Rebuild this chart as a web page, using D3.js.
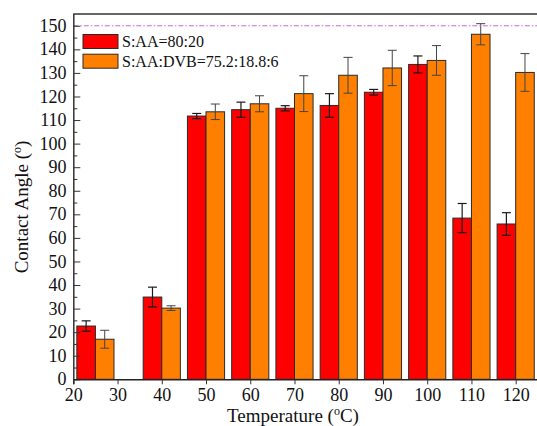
<!DOCTYPE html>
<html>
<head>
<meta charset="utf-8">
<script src="https://cdn.jsdelivr.net/npm/d3@7"></script>
<style>
  body { margin: 0; background: #fff; }
  svg { display: block; font-family: 'Liberation Serif', 'Times New Roman', serif; }
</style>
</head>
<body>
<div id="chart"></div>
<script>
// Data
const temps = [25, 40, 50, 60, 70, 80, 90, 100, 110, 120]
const aaVals = [22.6, 34.9, 111.7, 114.4, 115.0, 116.2, 121.8, 133.6, 68.4, 65.9]
const aaErr = [2.2, 4.2, 1.1, 3.2, 1.1, 5.0, 1.2, 3.6, 6.2, 4.8]
const dvbVals = [17.0, 30.2, 113.5, 116.9, 121.2, 129.0, 132.1, 135.3, 146.4, 130.2]
const dvbErr = [3.8, 1.0, 3.3, 3.4, 7.6, 7.6, 7.5, 6.3, 4.5, 8.0]
const seriesNames = ['S:AA=80:20', 'S:AA:DVB=75.2:18.8:6']
const xTicks = [20, 30, 40, 50, 60, 70, 80, 90, 100, 110, 120]
const yTicks = d3.range(0, 151, 10)
const refLine = 150

const width = 537,
  height = 426

const svg = d3.select('#chart')
  .append('svg')
  .attr('width', width)
  .attr('height', height)

const x = d3.scaleLinear().domain([20, 125]).range([73.3, 537.8])
const y = d3.scaleLinear().domain([0, 155]).range([379.3, 14])

const barW = 4.2 // in data units
const colors = ['#ff0000', '#ff8000']

const series = [
  { vals: aaVals, err: aaErr, off: -barW, color: colors[0], errColor: '#1a1a1a', errW: 1.2 },
  { vals: dvbVals, err: dvbErr, off: 0, color: colors[1], errColor: '#444', errW: 1 }
]

// bars
series.forEach((s) => {
  svg.append('g')
    .selectAll('rect')
    .data(temps)
    .enter()
    .append('rect')
    .attr('x', (d) => x(d + s.off))
    .attr('width', (d) => x(d + s.off + barW) - x(d + s.off))
    .attr('y', (d, i) => y(s.vals[i]))
    .attr('height', (d, i) => y(0) - y(s.vals[i]))
    .attr('fill', s.color)
    .attr('stroke', '#2a2a2a')
    .attr('stroke-width', 1)
})

// error bars
series.forEach((s) => {
  const g = svg.append('g')
    .attr('stroke', s.errColor)
    .attr('stroke-width', s.errW)
  temps.forEach((t, i) => {
    const cx = x(t + s.off + barW / 2)
    const top = y(s.vals[i] + s.err[i])
    const bot = y(s.vals[i] - s.err[i])
    g.append('line').attr('x1', cx).attr('x2', cx).attr('y1', top).attr('y2', bot)
    g.append('line').attr('x1', cx - 4.5).attr('x2', cx + 4.5).attr('y1', top).attr('y2', top)
    g.append('line').attr('x1', cx - 4.5).attr('x2', cx + 4.5).attr('y1', bot).attr('y2', bot)
  })
})

// reference line at 150
svg.append('line')
  .attr('x1', x(20)).attr('x2', width)
  .attr('y1', y(refLine)).attr('y2', y(refLine))
  .attr('stroke', '#c46bd0')
  .attr('stroke-width', 1)
  .attr('stroke-dasharray', '5,2,1.5,2')

// top frame
svg.append('line')
  .attr('x1', x(20)).attr('x2', width)
  .attr('y1', y(155)).attr('y2', y(155))
  .attr('stroke', '#333')
  .attr('stroke-width', 1.5)

// y axis: ticks point inward
const yAxis = d3.axisRight(y)
  .tickValues(yTicks)
  .tickSize(7)
  .tickFormat('')
const yMinor = d3.axisRight(y)
  .tickValues(d3.range(5, 155, 10))
  .tickSize(4)
  .tickFormat('')

const gy = svg.append('g')
  .attr('transform', `translate(${x(20)},0)`)
  .call(yAxis)
svg.append('g')
  .attr('transform', `translate(${x(20)},0)`)
  .call(yMinor)
  .select('.domain').remove()
svg.selectAll('.tick line').attr('stroke', '#333')
gy.select('.domain').attr('d', `M0.5,${y(0)}V${y(155)}`).attr('stroke', '#333').attr('stroke-width', 1.5)

svg.append('g')
  .selectAll('text')
  .data(yTicks)
  .enter()
  .append('text')
  .attr('x', 66.5)
  .attr('y', (d) => y(d))
  .attr('dy', '0.34em')
  .attr('text-anchor', 'end')
  .attr('font-size', 18)
  .attr('fill', '#111')
  .text((d) => d)

// x axis: ticks point outward
const xAxis = d3.axisBottom(x)
  .tickValues(xTicks)
  .tickSize(5)
  .tickPadding(4)
const gx = svg.append('g')
  .attr('transform', `translate(0,${y(0)})`)
  .call(xAxis)
gx.select('.domain').attr('stroke', '#222').attr('stroke-width', 1.5)
gx.selectAll('.tick line').attr('stroke', '#333')
gx.selectAll('.tick text')
  .attr('font-size', 18)
  .attr('font-family', "'Liberation Serif', serif")
  .attr('fill', '#111')

// axis titles
const xt = svg.append('text')
  .attr('x', 293)
  .attr('y', 422.3)
  .attr('text-anchor', 'middle')
  .attr('font-size', 19)
  .attr('fill', '#111')
xt.append('tspan').text('Temperature (')
xt.append('tspan').attr('font-size', 12).attr('dy', -7).text('o')
xt.append('tspan').attr('dy', 7).text('C)')

const yt = svg.append('text')
  .attr('transform', 'translate(28,207) rotate(-90)')
  .attr('text-anchor', 'middle')
  .attr('font-size', 19)
  .attr('fill', '#111')
yt.append('tspan').text('Contact Angle (')
yt.append('tspan').attr('font-size', 12).attr('dy', -7).text('o')
yt.append('tspan').attr('dy', 7).text(')')

// legend
const legend = svg.append('g')
seriesNames.forEach((name, i) => {
  legend.append('rect')
    .attr('x', 83)
    .attr('y', 34.5 + i * 19.7)
    .attr('width', 35)
    .attr('height', 14)
    .attr('fill', colors[i])
    .attr('stroke', '#2a2a2a')
    .attr('stroke-width', 1)
  legend.append('text')
    .attr('x', 122)
    .attr('y', 47 + i * 19.7)
    .attr('font-size', 16)
    .attr('fill', '#111')
    .text(name)
})
</script>
</body>
</html>
